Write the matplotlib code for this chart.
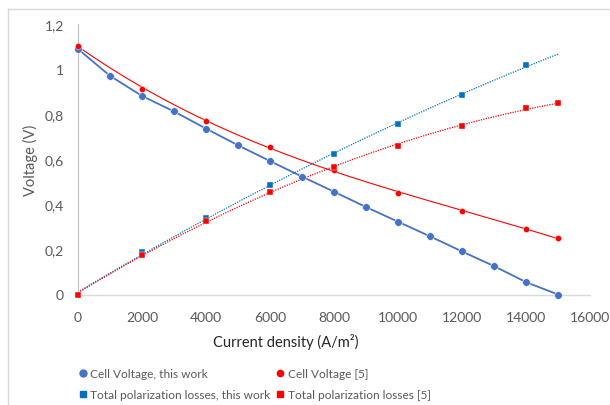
import numpy as np
import matplotlib
matplotlib.use("Agg")
import matplotlib.pyplot as plt
from matplotlib.lines import Line2D

plt.rcParams['font.family'] = ['Lato', 'DejaVu Sans']

# ---- data ----
x_this = [0, 1000, 2000, 3000, 4000, 5000, 6000, 7000, 8000, 9000, 10000,
          11000, 12000, 13000, 14000, 15000]
v_this = [1.089, 0.970, 0.881, 0.812, 0.736, 0.662, 0.592, 0.523, 0.456,
          0.388, 0.323, 0.258, 0.191, 0.126, 0.055, 0.0]

x_ref = [0, 2000, 4000, 6000, 8000, 10000, 12000, 14000, 15000]
v_ref = [1.104, 0.912, 0.771, 0.653, 0.552, 0.452, 0.370, 0.291, 0.249]

x_loss_this = [0, 2000, 4000, 6000, 8000, 10000, 12000, 14000]
loss_this = [0.0, 0.190, 0.339, 0.487, 0.623, 0.755, 0.885, 1.017]

x_loss_ref = [0, 2000, 4000, 6000, 8000, 10000, 12000, 14000, 15000]
loss_ref = [0.0, 0.177, 0.327, 0.456, 0.567, 0.660, 0.746, 0.826, 0.851]

x_ticks = [0, 2000, 4000, 6000, 8000, 10000, 12000, 14000, 16000]
y_ticks = [0, 0.2, 0.4, 0.6, 0.8, 1.0, 1.2]
y_tick_labels = ["0", "0,2", "0,4", "0,6", "0,8", "1", "1,2"]

labels = ["Cell Voltage, this work", "Total polarization losses, this work",
          "Cell Voltage [5]", "Total polarization losses [5]"]

BLUE = "#4472C4"
BLUE2 = "#0070C0"
RED = "#FF0000"
GRAY = "#595959"

W, H = 610, 406
fig = plt.figure(figsize=(W / 100, H / 100), dpi=100)

# chart-area border (partial, as in reference)
fig.add_artist(Line2D([8 / W, 8 / W], [0, 1 - 10 / H], color="#D9D9D9", lw=1))
fig.add_artist(Line2D([8 / W, 1], [1 - 10 / H, 1 - 10 / H], color="#D9D9D9", lw=1))

left, right = 78 / W, 590 / W
bottom, top = 1 - 295.5 / H, 1 - 25 / H
ax = fig.add_axes([left, bottom, right - left, top - bottom])
ax.set_xlim(0, 16000)
ax.set_ylim(0, 1.2)

def trend(xs, ys, deg, x0, x1):
    c = np.polyfit(xs, ys, deg)
    xx = np.linspace(x0, x1, 200)
    return xx, np.polyval(c, xx)

# lines / trendlines
ax.plot(x_this, v_this, color=BLUE, lw=1.3, zorder=2)
xx, yy = trend(x_ref, v_ref, 3, 0, 15000)
ax.plot(xx, yy, color=RED, lw=0.8, zorder=2)
xx, yy = trend(x_loss_this, loss_this, 2, 0, 15000)
ax.plot(xx, yy, color=BLUE2, lw=0.9, ls=(0, (1, 1)), zorder=2)
xx, yy = trend(x_loss_ref, loss_ref, 2, 0, 15000)
ax.plot(xx, yy, color=RED, lw=0.9, ls=(0, (1, 1)), zorder=2)

# markers
ax.plot(x_this, v_this, 'o', color=BLUE, ms=5.5, mec="white", mew=0.4, clip_on=False, zorder=4)
ax.plot(x_ref, v_ref, 'o', color=RED, ms=4.5, mec="white", mew=0.3, clip_on=False, zorder=4)
ax.plot(x_loss_this, loss_this, 's', color=BLUE2, ms=4, mec="white", mew=0.3, clip_on=False, zorder=4)
ax.plot(x_loss_ref, loss_ref, 's', color=RED, ms=5, mec="white", mew=0.3, clip_on=False, zorder=4)

for s in ["top", "right"]:
    ax.spines[s].set_visible(False)
ax.spines["left"].set_color("#BFBFBF")
ax.spines["bottom"].set_color("#D9D9D9")
ax.spines["left"].set_linewidth(0.8)
ax.spines["bottom"].set_linewidth(1.0)

ax.set_xticks(x_ticks)
ax.set_xticklabels([str(v) for v in x_ticks])
ax.set_yticks(y_ticks)
ax.set_yticklabels(y_tick_labels)
ax.tick_params(length=0, labelsize=10, labelcolor=GRAY)
ax.tick_params(axis='x', pad=12)
ax.tick_params(axis='y', pad=10)

ax.set_xlabel("Current density (A/m\u00b2)", fontsize=10.5, color="#262626")
ax.xaxis.set_label_coords((286 - 78) / (590 - 78), -(342 - 295.5) / (295.5 - 25), transform=ax.transAxes)
ax.xaxis.label.set_va("center")
ax.set_ylabel("Voltage (V)", fontsize=10.5, color=GRAY)
ax.yaxis.set_label_coords(-(78 - 30) / (590 - 78), (295.5 - 160) / (295.5 - 25), transform=ax.transAxes)
ax.yaxis.label.set_va("center")

handles = [
    Line2D([], [], ls="none", marker="o", color=BLUE, ms=5),
    Line2D([], [], ls="none", marker="s", color=BLUE2, ms=4),
    Line2D([], [], ls="none", marker="o", color=RED, ms=4.5),
    Line2D([], [], ls="none", marker="s", color=RED, ms=5),
]
leg = fig.legend(handles, labels, ncol=2, loc="upper left",
                 bbox_to_anchor=(73 / W, 1 - 363 / H), frameon=False,
                 fontsize=8.6, handlelength=0.6, handletextpad=0.35,
                 columnspacing=0.5, labelspacing=0.85, borderpad=0)
for t in leg.get_texts():
    t.set_color(GRAY)

fig.savefig("out.png", dpi=100)
